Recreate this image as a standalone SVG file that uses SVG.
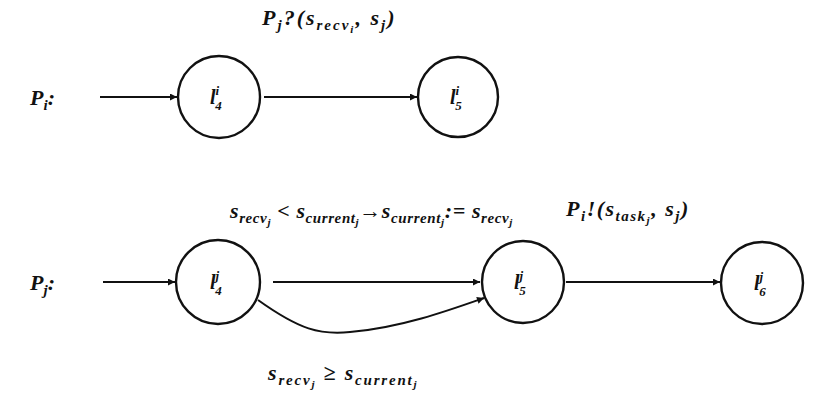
<svg xmlns="http://www.w3.org/2000/svg" width="817" height="397" viewBox="0 0 817 397">
<style>
.t{font-family:"Liberation Serif","Times New Roman",serif;font-style:italic;font-weight:bold;fill:#111}
.l{font-size:22px}
.s{font-size:15px}
.ss{font-size:11px}
.n{font-size:20px}
.ns{font-size:13px}
.st{fill:#fff;stroke:#111;stroke-width:2.4}
.c{fill:none;stroke:#111;stroke-width:2}
</style>
<defs>
<marker id="a" viewBox="0 0 10 10" refX="10" refY="5" markerWidth="9" markerHeight="7" orient="auto" markerUnits="userSpaceOnUse"><path d="M0,0L10,5L0,10z" fill="#111"/></marker>
</defs>
<g id="connectors">
<line class="c" x1="100" y1="97" x2="177" y2="97" marker-end="url(#a)"/>
<line class="c" x1="264" y1="97" x2="417" y2="97" marker-end="url(#a)"/>
<line class="c" x1="103" y1="282" x2="175" y2="282" marker-end="url(#a)"/>
<line class="c" x1="273" y1="282" x2="480" y2="282" marker-end="url(#a)"/>
<path class="c" d="M258,300 C300,330 320,335 350,332 C400,328 450,310 484,298" marker-end="url(#a)"/>
<line class="c" x1="566" y1="282" x2="720" y2="282" marker-end="url(#a)"/>
</g>
<g id="labels">
<text class="t l" x="30" y="105">P<tspan class="s" dy="5">i</tspan><tspan dy="-5">:</tspan></text>
<text class="t l" x="30" y="290">P<tspan class="s" dy="5">j</tspan><tspan dy="-5">:</tspan></text>
<text class="t l" x="262" y="25" letter-spacing="2">P<tspan class="s" dy="5">j</tspan><tspan dy="-5">?(s</tspan><tspan class="s" dy="5">recv</tspan><tspan class="ss" dy="3">i</tspan><tspan dy="-8">, s</tspan><tspan class="s" dy="5">j</tspan><tspan dy="-5">)</tspan></text>
<text class="t l" x="230" y="218" letter-spacing="0.6">s<tspan class="s" dy="5">recv</tspan><tspan class="ss" dy="3">j</tspan><tspan dy="-8"> &lt; s</tspan><tspan class="s" dy="5">current</tspan><tspan class="ss" dy="3">j</tspan><tspan dy="-8">→s</tspan><tspan class="s" dy="5">current</tspan><tspan class="ss" dy="3">j</tspan><tspan dy="-8">:= s</tspan><tspan class="s" dy="5">recv</tspan><tspan class="ss" dy="3">j</tspan></text>
<text class="t l" x="566" y="216" letter-spacing="1.5">P<tspan class="s" dy="5">i</tspan><tspan dy="-5">!(s</tspan><tspan class="s" dy="5">task</tspan><tspan class="ss" dy="3">j</tspan><tspan dy="-8">, s</tspan><tspan class="s" dy="5">j</tspan><tspan dy="-5">)</tspan></text>
<text class="t l" x="268" y="380" letter-spacing="1.8">s<tspan class="s" dy="5">recv</tspan><tspan class="ss" dy="3">j</tspan><tspan dy="-8"> ≥ s</tspan><tspan class="s" dy="5">current</tspan><tspan class="ss" dy="3">j</tspan></text>
</g>
<g id="l4i"><circle class="st" cx="219" cy="97" r="41"/><text class="t n" x="210" y="104">l<tspan class="ns" dy="-9">i</tspan><tspan class="ns" dx="-4" dy="15">4</tspan></text></g>
<g id="l5i"><circle class="st" cx="458" cy="97" r="40"/><text class="t n" x="450" y="104">l<tspan class="ns" dy="-9">i</tspan><tspan class="ns" dx="-4" dy="15">5</tspan></text></g>
<g id="l4j"><circle class="st" cx="218" cy="282" r="42"/><text class="t n" x="210" y="289">l<tspan class="ns" dy="-9">j</tspan><tspan class="ns" dx="-4" dy="15">4</tspan></text></g>
<g id="l5j"><circle class="st" cx="523" cy="282" r="41"/><text class="t n" x="514" y="289">l<tspan class="ns" dy="-9">j</tspan><tspan class="ns" dx="-4" dy="15">5</tspan></text></g>
<g id="l6j"><circle class="st" cx="762" cy="283" r="41"/><text class="t n" x="754" y="290">l<tspan class="ns" dy="-9">j</tspan><tspan class="ns" dx="-4" dy="15">6</tspan></text></g>
</svg>
